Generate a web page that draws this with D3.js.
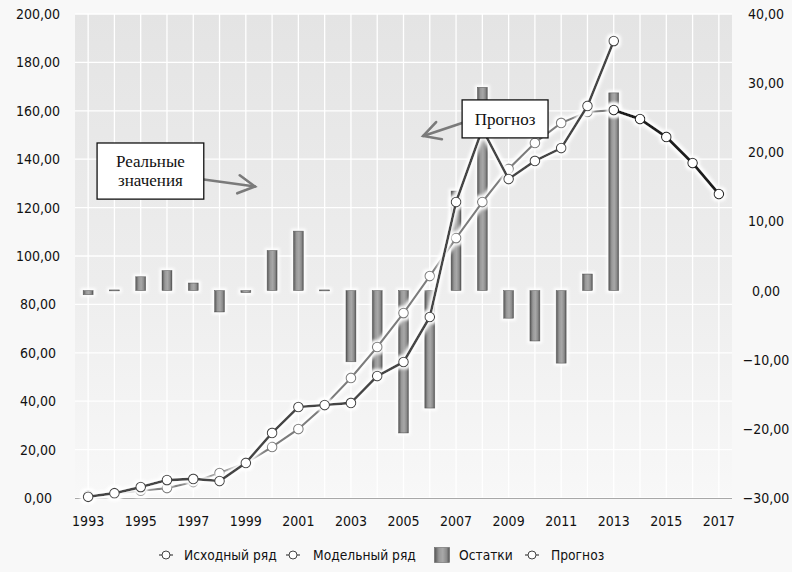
<!DOCTYPE html>
<html>
<head>
<meta charset="utf-8">
<script src="https://cdn.jsdelivr.net/npm/d3@7"></script>
<style>
  html, body { margin: 0; padding: 0; background: #f8f8f8; }
  svg { display: block; }
</style>
</head>
<body>
<div id="chart"></div>
<script>
// Years of the source series
const years = [1993, 1994, 1995, 1996, 1997, 1998, 1999, 2000, 2001, 2002, 2003,
  2004, 2005, 2006, 2007, 2008, 2009, 2010, 2011, 2012, 2013];
// Исходный ряд
const original = [0.5, 2.0, 4.5, 7.4, 7.9, 7.0, 14.5, 26.9, 37.6, 38.4, 39.3,
  50.4, 56.2, 74.8, 122.3, 152.5, 131.8, 139.3, 144.6, 162.0, 188.8];
// Модельный ряд
const model = [1.0, 1.9, 3.0, 4.1, 6.6, 10.3, 14.5, 21.1, 28.5, 38.2, 49.6,
  62.4, 76.4, 91.7, 107.4, 122.3, 136.0, 146.7, 155.0, 159.5, 160.3];
// Остатки (right axis)
const residuals = [-0.6, 0.1, 2.0, 2.9, 1.1, -3.1, -0.3, 5.8, 8.6, 0.1, -10.3,
  -12.0, -20.6, -17.0, 14.4, 29.4, -4.0, -7.3, -10.5, 2.4, 28.6];
// Прогноз
const forecastYears = [2013, 2014, 2015, 2016, 2017];
const forecast = [160.3, 156.6, 149.2, 138.4, 125.6];

// Axes
const gridYears = [1993, 1994, 1995, 1996, 1997, 1998, 1999, 2000, 2001, 2002, 2003,
  2004, 2005, 2006, 2007, 2008, 2009, 2010, 2011, 2012, 2013, 2014, 2015, 2016, 2017];
const xTickLabels = [1993, 1995, 1997, 1999, 2001, 2003, 2005, 2007, 2009, 2011, 2013, 2015, 2017];
const leftTicks = [0, 20, 40, 60, 80, 100, 120, 140, 160, 180, 200];
const rightTicks = [-30, -20, -10, 0, 10, 20, 30, 40];

// Legend labels
const legendLabels = ["Исходный ряд", "Модельный ряд", "Остатки", "Прогноз"];

const width = 792, height = 572;
const margin = { top: 14, right: 60, bottom: 74, left: 75 };
const fmt = v => d3.format(".2f")(v).replace(".", ",");

const svg = d3.select("#chart").append("svg")
  .attr("width", width)
  .attr("height", height);

const defs = svg.append("defs");

const bg = defs.append("linearGradient").attr("id", "plotBg")
  .attr("x1", 0).attr("y1", 0).attr("x2", 0).attr("y2", 1);
bg.append("stop").attr("offset", "0%").attr("stop-color", "#e4e4e4");
bg.append("stop").attr("offset", "55%").attr("stop-color", "#ededed");
bg.append("stop").attr("offset", "100%").attr("stop-color", "#f8f8f8");

const barGrad = defs.append("linearGradient").attr("id", "barGrad")
  .attr("x1", 0).attr("y1", 0).attr("x2", 1).attr("y2", 0);
barGrad.append("stop").attr("offset", "0%").attr("stop-color", "#555555");
barGrad.append("stop").attr("offset", "30%").attr("stop-color", "#999999");
barGrad.append("stop").attr("offset", "55%").attr("stop-color", "#a8a8a8");
barGrad.append("stop").attr("offset", "80%").attr("stop-color", "#8c8c8c");
barGrad.append("stop").attr("offset", "100%").attr("stop-color", "#555555");

// soft white halo around marks
const glow = defs.append("filter").attr("id", "glow")
  .attr("x", "-30%").attr("y", "-30%").attr("width", "160%").attr("height", "160%");
glow.append("feMorphology").attr("in", "SourceAlpha").attr("operator", "dilate")
  .attr("radius", 1.5).attr("result", "dil");
glow.append("feGaussianBlur").attr("in", "dil").attr("stdDeviation", 1.6).attr("result", "blur");
glow.append("feFlood").attr("flood-color", "#ffffff").attr("result", "white");
glow.append("feComposite").attr("in", "white").attr("in2", "blur").attr("operator", "in").attr("result", "halo");
const gm = glow.append("feMerge");
gm.append("feMergeNode").attr("in", "halo");
gm.append("feMergeNode").attr("in", "SourceGraphic");

// Scales
const x = d3.scaleLinear()
  .domain([1992.5, 2017.5])
  .range([margin.left, width - margin.right]);
const yLeft = d3.scaleLinear()
  .domain([0, 200])
  .range([height - margin.bottom, margin.top]);
const yRight = d3.scaleLinear()
  .domain([-30, 40])
  .range([height - margin.bottom, margin.top]);

const plotW = x.range()[1] - x.range()[0];
const plotH = yLeft.range()[0] - yLeft.range()[1];

// Plot background
svg.append("rect")
  .attr("x", x.range()[0]).attr("y", margin.top)
  .attr("width", plotW).attr("height", plotH)
  .attr("fill", "url(#plotBg)");

// Grid
svg.append("g").selectAll("line.h")
  .data(leftTicks)
  .join("line")
  .attr("x1", x.range()[0]).attr("x2", x.range()[1])
  .attr("y1", d => yLeft(d)).attr("y2", d => yLeft(d))
  .attr("stroke", "#ffffff").attr("stroke-width", 1.3);

svg.append("g").selectAll("line.v")
  .data(gridYears)
  .join("line")
  .attr("x1", d => x(d)).attr("x2", d => x(d))
  .attr("y1", margin.top).attr("y2", yLeft(0))
  .attr("stroke", "#ffffff").attr("stroke-width", 1.3);

// Bottom axis line
svg.append("line")
  .attr("x1", x.range()[0]).attr("x2", x.range()[1])
  .attr("y1", yLeft(0) + 0.5).attr("y2", yLeft(0) + 0.5)
  .attr("stroke", "#a8a8a8").attr("stroke-width", 1.2);

// Axis labels
const tickFont = "'DejaVu Sans Condensed', 'DejaVu Sans', sans-serif";

svg.append("g").selectAll("text")
  .data(leftTicks)
  .join("text")
  .attr("x", 38).attr("y", d => yLeft(d))
  .attr("dy", "0.36em")
  .attr("text-anchor", "middle")
  .attr("font-family", tickFont).attr("font-size", 14)
  .attr("fill", "#111")
  .text(fmt);

svg.append("g").selectAll("text")
  .data(rightTicks)
  .join("text")
  .attr("x", 766).attr("y", d => yRight(d))
  .attr("dy", "0.36em")
  .attr("text-anchor", "middle")
  .attr("font-family", tickFont).attr("font-size", 14)
  .attr("fill", "#111")
  .text(fmt);

svg.append("g").selectAll("text")
  .data(xTickLabels)
  .join("text")
  .attr("x", d => x(d)).attr("y", 521)
  .attr("dy", "0.36em")
  .attr("text-anchor", "middle")
  .attr("font-family", tickFont).attr("font-size", 14)
  .attr("fill", "#111")
  .text(d => d);

// Residual bars
const barW = 10;
svg.append("g").attr("filter", "url(#glow)")
  .selectAll("rect")
  .data(years.map((yr, i) => ({ yr, v: residuals[i] })))
  .join("rect")
  .attr("x", d => x(d.yr) - barW / 2)
  .attr("y", d => Math.min(yRight(d.v), yRight(0)))
  .attr("width", barW)
  .attr("height", d => Math.max(1, Math.abs(yRight(d.v) - yRight(0))))
  .attr("fill", "url(#barGrad)")
  .attr("stroke", "#4a4a4a").attr("stroke-width", 0.6);

// Lines
function drawSeries(xs, vals, color, lw) {
  const pts = xs.map((yr, i) => [x(yr), yLeft(vals[i])]);
  const g = svg.append("g").attr("filter", "url(#glow)");
  g.append("path")
    .datum(pts)
    .attr("d", d3.line())
    .attr("fill", "none")
    .attr("stroke", color)
    .attr("stroke-width", lw)
    .attr("stroke-linejoin", "round");
  g.selectAll("circle")
    .data(pts)
    .join("circle")
    .attr("cx", d => d[0]).attr("cy", d => d[1])
    .attr("r", 4.8)
    .attr("fill", "#ffffff")
    .attr("stroke", color)
    .attr("stroke-width", 1.1);
}

drawSeries(years, model, "#7c7c7c", 2.2);
drawSeries(years, original, "#444444", 2.6);
drawSeries(forecastYears, forecast, "#1e1e1e", 3);

// Annotations
const serif = "'Liberation Serif', 'DejaVu Serif', serif";

function arrow(x1, v1, x2, v2) {
  const p1 = [x(x1), yLeft(v1)], p2 = [x(x2), yLeft(v2)];
  const ang = Math.atan2(p2[1] - p1[1], p2[0] - p1[0]);
  const len = 19, spread = 0.5;
  const w1 = [p2[0] - len * Math.cos(ang - spread), p2[1] - len * Math.sin(ang - spread)];
  const w2 = [p2[0] - len * Math.cos(ang + spread), p2[1] - len * Math.sin(ang + spread)];
  const g = svg.append("g").attr("stroke", "#7a7a7a").attr("stroke-width", 2.6)
    .attr("fill", "none").attr("stroke-linecap", "round");
  g.append("path").attr("d", d3.line()([p1, p2]));
  g.append("path").attr("d", d3.line()([w1, p2, w2]));
}

function box(xa, va, xb, vb, lines) {
  const x0 = x(xa), x1 = x(xb), y0 = yLeft(va), y1 = yLeft(vb);
  svg.append("rect")
    .attr("x", x0).attr("y", y0)
    .attr("width", x1 - x0).attr("height", y1 - y0)
    .attr("fill", "#ffffff").attr("stroke", "#111").attr("stroke-width", 1.3);
  const cx = (x0 + x1) / 2, cy = (y0 + y1) / 2;
  const lh = 19;
  lines.forEach((t, i) => {
    svg.append("text")
      .attr("x", cx).attr("y", cy + (i - (lines.length - 1) / 2) * lh)
      .attr("dy", "0.33em")
      .attr("text-anchor", "middle")
      .attr("font-family", serif).attr("font-size", 17)
      .attr("fill", "#111")
      .text(t);
  });
}

arrow(1997.4, 131.6, 1999.35, 128.7);
box(1993.34, 146.7, 1997.4, 123.5, ["Реальные", "значения"]);

arrow(2007.23, 155.0, 2005.75, 149.6);
box(2007.23, 164.5, 2010.5, 148.8, ["Прогноз"]);

// Legend
const legY = 555;
const legend = svg.append("g")
  .attr("font-family", tickFont).attr("font-size", 13.7).attr("fill", "#111");

const legItems = [
  { label: legendLabels[0], type: "line", mx: 166, tx: 184 },
  { label: legendLabels[1], type: "line", mx: 293, tx: 313 },
  { label: legendLabels[2], type: "bar", mx: 442, tx: 459 },
  { label: legendLabels[3], type: "line", mx: 532, tx: 551 }
];

legItems.forEach(it => {
  if (it.type === "line") {
    legend.append("line")
      .attr("x1", it.mx - 7).attr("x2", it.mx + 7)
      .attr("y1", legY).attr("y2", legY)
      .attr("stroke", "#444").attr("stroke-width", 1.2);
    legend.append("circle")
      .attr("cx", it.mx).attr("cy", legY).attr("r", 4)
      .attr("fill", "#fff").attr("stroke", "#444").attr("stroke-width", 1);
  } else {
    legend.append("rect")
      .attr("x", it.mx - 7.5).attr("y", legY - 7.5)
      .attr("width", 15).attr("height", 15)
      .attr("fill", "url(#barGrad)").attr("stroke", "#666").attr("stroke-width", 0.6);
  }
  legend.append("text")
    .attr("x", it.tx).attr("y", legY)
    .attr("dy", "0.36em")
    .text(it.label);
});
</script>
</body>
</html>
